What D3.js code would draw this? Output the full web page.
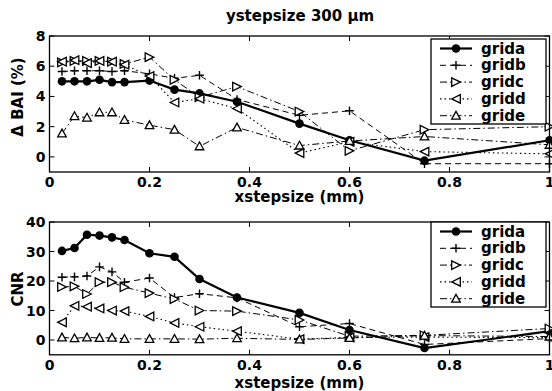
<!DOCTYPE html>
<html>
<head>
<meta charset="utf-8">
<script src="https://cdn.jsdelivr.net/npm/d3@7"></script>
<style>
  body { margin: 0; background: #fff; }
  svg { display: block; }
  text { font-family: "DejaVu Sans", sans-serif; font-weight: bold; fill: #000; }
</style>
</head>
<body>
<svg id="chart" width="552" height="391"></svg>
<script>
const xsteps = [0.025, 0.05, 0.075, 0.1, 0.125, 0.15, 0.2, 0.25, 0.3, 0.375, 0.5, 0.6, 0.75, 1.0];
const seriesNames = ['grida', 'gridb', 'gridc', 'gridd', 'gride'];

// delta BAI (%)
const baiGrida = [5.0, 5.0, 5.0, 5.1, 4.95, 4.95, 5.05, 4.45, 4.2, 3.65, 2.2, 1.1, -0.25, 1.1];
const baiGridb = [5.65, 5.7, 5.7, 5.7, 5.65, 5.7, 5.5, 5.2, 5.4, 3.8, 2.75, 3.05, -0.45, -0.45];
const baiGridc = [6.25, 6.35, 6.35, 6.35, 6.3, 6.15, 6.6, 5.1, 3.95, 4.65, 3.0, 0.4, 1.8, 2.0];
const baiGridd = [6.3, 6.4, 6.2, 6.35, 6.3, 6.1, 5.35, 3.6, 3.85, 3.2, 0.25, 1.0, 0.35, 0.2];
const baiGride = [1.55, 2.7, 2.6, 2.95, 2.95, 2.45, 2.1, 1.8, 0.7, 1.95, 0.75, 1.05, 1.35, 0.8];

// CNR
const cnrGrida = [30.2, 31.2, 35.7, 35.4, 34.8, 33.9, 29.4, 28.2, 20.7, 14.4, 9.2, 3.4, -2.7, 3.0];
const cnrGridb = [21.3, 21.4, 21.7, 24.8, 23.1, 19.6, 21.0, 14.4, 15.7, 14.3, 4.5, 5.6, -1.5, 0.5];
const cnrGridc = [18.0, 18.2, 15.6, 19.6, 19.6, 17.9, 15.9, 13.9, 10.0, 9.8, 6.8, 1.3, 1.6, 3.9];
const cnrGridd = [6.0, 11.6, 11.3, 10.7, 10.0, 9.8, 8.0, 5.8, 4.5, 3.0, 0.3, 0.9, 1.0, 0.8];
const cnrGride = [0.9, 0.6, 0.9, 0.7, 0.8, 0.4, 0.4, 0.4, 0.3, 0.6, 0.2, 0.7, 1.5, 1.2];

const xTicks = [0, 0.2, 0.4, 0.6, 0.8, 1];
const baiTicks = [0, 2, 4, 6, 8];
const cnrTicks = [0, 10, 20, 30, 40];

const styles = {
  grida: { dash: null, width: 2.2, marker: 'circle' },
  gridb: { dash: '6,4', width: 1, marker: 'plus' },
  gridc: { dash: '7,3,1.5,3', width: 1, marker: 'right' },
  gridd: { dash: '1.5,3', width: 1.1, marker: 'left' },
  gride: { dash: '7,3,1.5,3', width: 1, marker: 'up' }
};

const svg = d3.select('#chart');

function drawMarker(g, type, x, y) {
  const s = 4.3;
  if (type === 'circle') {
    g.append('circle').attr('cx', x).attr('cy', y).attr('r', 4.3).attr('fill', '#000');
  } else if (type === 'plus') {
    g.append('path').attr('d', `M${x - s},${y}H${x + s}M${x},${y - s}V${y + s}`)
      .attr('stroke', '#000').attr('stroke-width', 1.4).attr('fill', 'none');
  } else {
    let pts;
    if (type === 'right') pts = [[x - s, y - s], [x + s, y], [x - s, y + s]];
    if (type === 'left') pts = [[x + s, y - s], [x - s, y], [x + s, y + s]];
    if (type === 'up') pts = [[x - s, y + s * 0.8], [x, y - s], [x + s, y + s * 0.8]];
    g.append('path').attr('d', 'M' + pts.join('L') + 'Z')
      .attr('stroke', '#000').attr('stroke-width', 1.3).attr('fill', '#fff');
  }
}

function drawPanel(opt) {
  const x = d3.scaleLinear().domain([0, 1]).range([49.5, 549.5]);
  const y = d3.scaleLinear().domain(opt.yDomain).range([opt.bottom, opt.top]);
  const g = svg.append('g');

  // ticks (inward, both sides)
  const tl = 5;
  xTicks.forEach(t => {
    g.append('line').attr('x1', x(t)).attr('x2', x(t)).attr('y1', opt.bottom).attr('y2', opt.bottom - tl)
      .attr('stroke', '#000');
    g.append('line').attr('x1', x(t)).attr('x2', x(t)).attr('y1', opt.top).attr('y2', opt.top + tl)
      .attr('stroke', '#000');
    g.append('text').attr('x', x(t)).attr('y', opt.bottom + 15).attr('text-anchor', 'middle')
      .style('font-size', '14px').text(d3.format('~g')(t));
  });
  opt.yTicks.forEach(t => {
    g.append('line').attr('x1', x(0)).attr('x2', x(0) + tl).attr('y1', y(t)).attr('y2', y(t))
      .attr('stroke', '#000');
    g.append('line').attr('x1', x(1)).attr('x2', x(1) - tl).attr('y1', y(t)).attr('y2', y(t))
      .attr('stroke', '#000');
    g.append('text').attr('x', x(0) - 4).attr('y', y(t) + 5).attr('text-anchor', 'end')
      .style('font-size', '14px').text(t);
  });

  // series
  const line = d3.line().x(d => x(d[0])).y(d => y(d[1]));
  opt.series.forEach((vals, i) => {
    const st = styles[seriesNames[i]];
    const pts = xsteps.map((v, j) => [v, vals[j]]);
    g.append('path').attr('d', line(pts)).attr('fill', 'none').attr('stroke', '#000')
      .attr('stroke-width', st.width).attr('stroke-dasharray', st.dash);
    pts.forEach(p => drawMarker(g, st.marker, x(p[0]), y(p[1])));
  });

  // frame
  g.append('rect').attr('x', x(0)).attr('y', opt.top).attr('width', x(1) - x(0))
    .attr('height', opt.bottom - opt.top).attr('fill', 'none').attr('stroke', '#000').attr('stroke-width', 1.3);

  // legend
  const lg = g.append('g');
  lg.append('rect').attr('x', 431).attr('y', opt.legTop).attr('width', 115).attr('height', 85)
    .attr('fill', '#fff').attr('stroke', '#000').attr('stroke-width', 1.3);
  seriesNames.forEach((name, i) => {
    const st = styles[name];
    const ly = opt.legTop + 9.5 + i * 16.8;
    lg.append('line').attr('x1', 440).attr('x2', 472).attr('y1', ly).attr('y2', ly)
      .attr('stroke', '#000').attr('stroke-width', st.width).attr('stroke-dasharray', st.dash);
    drawMarker(lg, st.marker, 456, ly);
    lg.append('text').attr('x', 481).attr('y', ly + 5).style('font-size', '15px').text(name);
  });

  // labels
  g.append('text').attr('x', 299.5).attr('y', opt.xLabelY).attr('text-anchor', 'middle')
    .style('font-size', '15px').text('xstepsize (mm)');
  g.append('text').attr('transform', `translate(${opt.yLabelX},${opt.yLabelMid}) rotate(-90)`)
    .attr('text-anchor', 'middle').style('font-size', '15px').text(opt.yLabel);
}

svg.append('text').attr('x', 300).attr('y', 21).attr('text-anchor', 'middle')
  .style('font-size', '15px').text('ystepsize 300  \u03bcm');

drawPanel({
  top: 36, bottom: 172, yDomain: [-1, 8], yTicks: baiTicks, yLabel: '\u0394 BAI (%)',
  yLabelX: 23, yLabelMid: 97, xLabelY: 202, legTop: 39,
  series: [baiGrida, baiGridb, baiGridc, baiGridd, baiGride]
});
drawPanel({
  top: 222, bottom: 354.8, yDomain: [-5, 40], yTicks: cnrTicks, yLabel: 'CNR',
  yLabelX: 23, yLabelMid: 289, xLabelY: 388, legTop: 222,
  series: [cnrGrida, cnrGridb, cnrGridc, cnrGridd, cnrGride]
});
</script>
</body>
</html>
